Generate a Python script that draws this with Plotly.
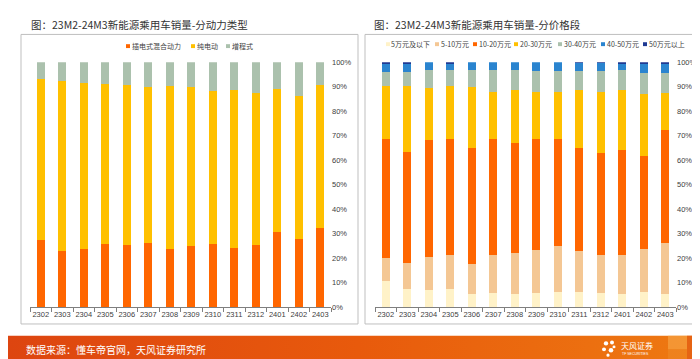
import plotly.graph_objects as go

W, H = 700, 359

# ---------------- data ----------------
months = ["2302", "2303", "2304", "2305", "2306", "2307", "2308",
          "2309", "2310", "2311", "2312", "2401", "2402", "2403"]

# left chart: share by power type (%)
power_names = ["插电式混合动力", "纯电动", "增程式"]
phev = [27.5, 22.7, 23.8, 25.6, 25.1, 26.0, 23.8, 25.0, 25.6, 24.2, 25.1, 30.7, 27.6, 32.4]
bev = [65.7, 69.7, 67.7, 65.5, 65.7, 63.8, 66.5, 64.9, 62.7, 64.4, 62.3, 58.3, 58.7, 58.4]
erev = [6.8, 7.6, 8.5, 8.9, 9.2, 10.2, 9.7, 10.1, 11.7, 11.4, 12.6, 11.0, 13.7, 9.2]

# right chart: share by price band (%)
price_names = ["5万元及以下", "5-10万元", "10-20万元", "20-30万元", "30-40万元", "40-50万元", "50万元以上"]
p_0_5 = [10.4, 7.5, 7.1, 7.3, 5.1, 5.6, 5.1, 5.6, 6.1, 6.1, 5.6, 5.1, 5.9, 5.1]
p_5_10 = [9.7, 10.4, 13.3, 13.8, 12.5, 15.7, 17.0, 17.6, 18.6, 16.8, 15.5, 16.2, 17.7, 21.2]
p_10_20 = [48.7, 45.6, 47.7, 47.4, 47.3, 47.2, 44.8, 45.6, 44.1, 42.0, 41.7, 42.8, 38.1, 46.0]
p_20_30 = [21.6, 26.6, 21.4, 21.6, 24.8, 19.4, 21.6, 19.1, 19.1, 23.6, 25.1, 24.6, 25.2, 15.3]
p_30_40 = [5.6, 5.9, 7.2, 6.6, 7.0, 8.8, 8.2, 8.6, 8.6, 8.0, 8.6, 8.1, 8.6, 7.9]
p_40_50 = [3.2, 3.2, 3.3, 2.6, 3.3, 3.3, 3.3, 3.5, 3.5, 3.1, 3.1, 2.7, 3.8, 3.8]
p_50_up = [0.8, 0.8, 0.0, 0.7, 0.0, 0.0, 0.0, 0.0, 0.0, 0.4, 0.4, 0.5, 0.7, 0.7]

y_ticks = [0, 10, 20, 30, 40, 50, 60, 70, 80, 90, 100]
y_tick_labels = [f"{v}%" for v in y_ticks]

title_left = "图：23M2-24M3新能源乘用车销量-分动力类型"
title_right = "图：23M2-24M3新能源乘用车销量-分价格段"
source_text = "数据来源：懂车帝官网，天风证券研究所"

# ---------------- style ----------------
power_colors = ["#FF6600", "#FFC000", "#ABC1AD"]
price_colors = ["#FFF2C8", "#F4C794", "#FF6600", "#FFC000", "#ABC1AD", "#2A84CF", "#1F3A93"]
FONT_CJK = "Noto Sans CJK SC"
FONT_NUM = "Liberation Sans"


def px(x):
    return x / W


def py(y):
    return 1 - y / H


fig = go.Figure()

for name, vals, col in zip(power_names, [phev, bev, erev], power_colors):
    fig.add_trace(go.Bar(x=months, y=vals, name=name, marker=dict(color=col, line=dict(width=0)),
                         xaxis="x", yaxis="y", showlegend=False, hoverinfo="skip"))

for name, vals, col in zip(price_names, [p_0_5, p_5_10, p_10_20, p_20_30, p_30_40, p_40_50, p_50_up],
                           price_colors):
    fig.add_trace(go.Bar(x=months, y=vals, name=name, marker=dict(color=col, line=dict(width=0)),
                         xaxis="x2", yaxis="y2", showlegend=False, hoverinfo="skip"))

# footer band with gradient on an overlay axis in pixel units
fig.add_trace(go.Scatter(x=[0, W, W, 0, 0], y=[0, 0, 27, 27, 0], mode="lines", fill="toself",
                         line=dict(width=0), xaxis="x3", yaxis="y3", showlegend=False,
                         hoverinfo="skip",
                         fillgradient=dict(type="horizontal",
                                           colorscale=[[0, "#DD4510"], [0.5, "#E85A0C"], [1, "#EE7A12"]])))

xaxis_common = dict(type="category", showline=True, linecolor="#7F7F7F", linewidth=1,
                    ticks="outside", tickson="boundaries", ticklen=4, tickcolor="#7F7F7F",
                    tickangle=0,
                    tickfont=dict(family=FONT_NUM, size=7.5, color="#404040"), showgrid=False,
                    zeroline=False, fixedrange=True)
yaxis_common = dict(range=[0, 100], tickvals=y_ticks, ticktext=y_tick_labels, side="right",
                    showgrid=False, zeroline=False, showline=False, ticks="",
                    tickfont=dict(family=FONT_NUM, size=7.5, color="#404040"), fixedrange=True)

plot_top, plot_bottom = 51.5, 302.5

fig.update_layout(
    width=W, height=H, margin=dict(l=0, r=0, t=0, b=0),
    paper_bgcolor="white", plot_bgcolor="rgba(0,0,0,0)",
    barmode="stack", bargap=0.62, showlegend=False,
    xaxis=dict(domain=[px(22), px(323)], anchor="y", **xaxis_common),
    yaxis=dict(domain=[py(plot_bottom), py(plot_top)], anchor="x", **yaxis_common),
    xaxis2=dict(domain=[px(367), px(668)], anchor="y2", **xaxis_common),
    yaxis2=dict(domain=[py(plot_bottom), py(plot_top)], anchor="x2", **yaxis_common),
    xaxis3=dict(domain=[0, 1], range=[0, W], visible=False, anchor="y3", fixedrange=True),
    yaxis3=dict(domain=[0, 1], range=[0, H], visible=False, anchor="x3", fixedrange=True),
)

shapes = []
annotations = []

# panel boxes
for x0, x1 in [(13, 350), (357, 692)]:
    shapes.append(dict(type="rect", xref="paper", yref="paper", x0=px(x0), x1=px(x1),
                       y0=py(320), y1=py(23), line=dict(color="#BFBFBF", width=1)))

# titles
for x0, txt in [(21, title_left), (364, title_right)]:
    annotations.append(dict(xref="paper", yref="paper", x=px(x0), y=py(12.5), xanchor="left",
                            yanchor="middle", text=txt, showarrow=False,
                            font=dict(family=FONT_CJK, size=10.5, color="#333333")))

# legends
legend_left_x = [118, 183, 218]
legend_right_x = [378, 427, 465, 506, 550, 593, 635]
for xs, names, cols, yc in [(legend_left_x, power_names, power_colors, 35),
                            (legend_right_x, price_names, price_colors, 33)]:
    for x0, nm, col in zip(xs, names, cols):
        shapes.append(dict(type="rect", xref="paper", yref="paper", x0=px(x0), x1=px(x0 + 4),
                           y0=py(yc + 2), y1=py(yc - 2), fillcolor=col, line=dict(width=0)))
        annotations.append(dict(xref="paper", yref="paper", x=px(x0 + 4.5), y=py(yc), xanchor="left",
                                yanchor="middle", text=nm, showarrow=False, borderpad=0,
                                font=dict(family=FONT_CJK, size=7, color="#404040")))

# footer decorations
shapes.append(dict(type="rect", xref="paper", yref="paper", x0=px(660), x1=px(679), y0=py(346),
                   y1=py(332), fillcolor="rgba(250,175,80,0.55)", line=dict(width=0)))
shapes.append(dict(type="rect", xref="paper", yref="paper", x0=px(660), x1=px(679), y0=py(359),
                   y1=py(346), fillcolor="rgba(240,140,40,0.5)", line=dict(width=0)))
shapes.append(dict(type="rect", xref="paper", yref="paper", x0=px(679), x1=px(700), y0=py(359),
                   y1=py(332), fillcolor="rgba(228,95,20,0.8)", line=dict(width=0)))
# logo flower
for cx, cy, r in [(598, 340, 2.2), (604, 339, 2.0), (596, 346, 2.0), (603, 347, 2.3), (600, 352, 1.6),
                  (606, 343.5, 1.5)]:
    shapes.append(dict(type="circle", xref="paper", yref="paper", x0=px(cx - r), x1=px(cx + r),
                       y0=py(cy + r), y1=py(cy - r), fillcolor="white", line=dict(width=0)))

annotations.append(dict(xref="paper", yref="paper", x=px(16), y=py(346.5), xanchor="left",
                        yanchor="middle", text=source_text, showarrow=False,
                        font=dict(family=FONT_CJK, size=10, color="white")))
annotations.append(dict(xref="paper", yref="paper", x=px(611), y=py(342.5), xanchor="left",
                        yanchor="middle", text="天风证券", showarrow=False,
                        font=dict(family=FONT_CJK, size=8, color="white")))
annotations.append(dict(xref="paper", yref="paper", x=px(612), y=py(350.5), xanchor="left",
                        yanchor="middle", text="TF SECURITIES", showarrow=False,
                        font=dict(family=FONT_NUM, size=3.5, color="white")))
annotations.append(dict(xref="paper", yref="paper", x=px(687), y=py(346), xanchor="center",
                        yanchor="middle", text="4", showarrow=False, borderpad=0,
                        font=dict(family=FONT_NUM, size=12, color="white")))

fig.update_layout(shapes=shapes, annotations=annotations)

fig.write_html("out.html")
